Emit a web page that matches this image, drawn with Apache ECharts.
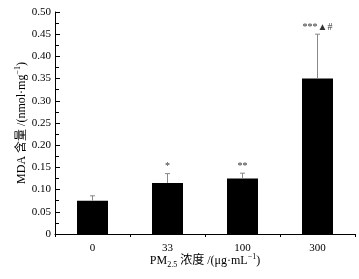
<!DOCTYPE html>
<html>
<head>
<meta charset="utf-8">
<style>
  html, body { margin: 0; padding: 0; background: #fff; }
  #chart { width: 359px; height: 279px; }
</style>
<script src="https://cdn.jsdelivr.net/npm/echarts@6/dist/echarts.min.js"></script>
</head>
<body>
<div id="chart"></div>
<script>
// PM2.5 浓度分组
const categories = ['0', '33', '100', '300']
// MDA 含量均值和标准差
const means = [0.075, 0.115, 0.125, 0.35]
const errors = [0.011, 0.021, 0.012, 0.10]
// 显著性标记
const marks = ['', '*', '**', '***▲#']

const serif = '"Liberation Serif", "Times New Roman", "Noto Sans CJK SC", serif'

const chart = echarts.init(document.getElementById('chart'))
const option = {
  animation: false,
  textStyle: { fontFamily: serif, color: '#000' },
  grid: { left: 55, right: 4, top: 12, bottom: 45, outerBoundsMode: 'none' },
  xAxis: {
    type: 'category',
    data: categories,
    name: 'PM{sub|2.5} 浓度 /(μg·mL{sup|−1})',
    nameLocation: 'middle',
    nameGap: 19,
    nameMoveOverlap: false,
    nameTextStyle: {
      fontFamily: serif,
      fontSize: 12,
      color: '#000',
      lineHeight: 16,
      rich: {
        sub: { fontFamily: serif, fontSize: 8, lineHeight: 8, verticalAlign: 'bottom', color: '#000' },
        sup: { fontFamily: serif, fontSize: 8, lineHeight: 8, verticalAlign: 'top', color: '#000' }
      }
    },
    axisLine: { lineStyle: { color: '#000', width: 1 } },
    axisTick: { show: true, inside: false, length: 3, alignWithLabel: false, lineStyle: { color: '#000' } },
    axisLabel: { fontFamily: serif, fontSize: 11, color: '#000', margin: 9 }
  },
  yAxis: {
    type: 'value',
    min: 0,
    max: 0.5,
    interval: 0.05,
    name: 'MDA 含量 /(nmol·mg{sup|−1})',
    nameLocation: 'middle',
    nameRotate: 90,
    nameGap: 25,
    nameMoveOverlap: false,
    nameTextStyle: {
      fontFamily: serif,
      fontSize: 12,
      color: '#000',
      lineHeight: 16,
      rich: {
        sup: { fontFamily: serif, fontSize: 8, lineHeight: 8, verticalAlign: 'top', color: '#000' }
      }
    },
    axisLine: { show: true, lineStyle: { color: '#000', width: 1 } },
    axisTick: { show: true, inside: true, length: 5, lineStyle: { color: '#000' } },
    minorTick: { show: true, splitNumber: 2, length: 4, lineStyle: { color: '#000' } },
    splitLine: { show: false },
    axisLabel: {
      fontFamily: serif,
      fontSize: 11,
      color: '#000',
      margin: 4,
      formatter: function (v) { return v === 0 ? '0' : v.toFixed(2) }
    }
  },
  series: [
    {
      type: 'bar',
      data: means,
      barWidth: 31,
      itemStyle: { color: '#000' }
    },
    {
      type: 'custom',
      data: means.map(function (m, i) { return [i, m, errors[i]] }),
      z: 5,
      renderItem: function (params, api) {
        const i = api.value(0)
        const base = api.coord([i, api.value(1)])
        const top = api.coord([i, api.value(1) + api.value(2)])
        const x = base[0]
        return {
          type: 'group',
          children: [
            {
              type: 'line',
              shape: { x1: x, y1: base[1], x2: x, y2: top[1] },
              style: { stroke: '#888', lineWidth: 1 }
            },
            {
              type: 'line',
              shape: { x1: x - 2.5, y1: top[1], x2: x + 2.5, y2: top[1] },
              style: { stroke: '#888', lineWidth: 1 }
            },
            {
              type: 'text',
              x: x,
              y: top[1] - 2,
              style: {
                text: marks[i],
                fill: '#333',
                font: '10px ' + serif,
                textAlign: 'center',
                textVerticalAlign: 'bottom'
              }
            }
          ]
        }
      }
    }
  ]
}
chart.setOption(option)
window.onresize = chart.resize
</script>
</body>
</html>
